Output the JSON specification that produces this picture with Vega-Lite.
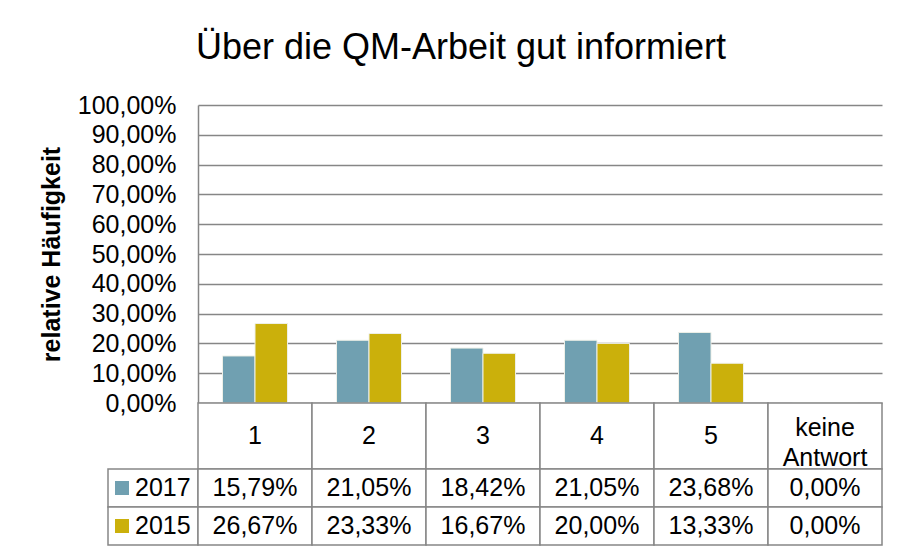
{
  "$schema": "https://vega.github.io/schema/vega-lite/v6.json",
  "padding": {"left": 39, "top": 30, "right": 5, "bottom": 0},
  "background": "white",
  "title": {"text": "Über die QM-Arbeit gut informiert", "fontSize": 36, "fontWeight": "normal", "font": "Liberation Sans", "color": "#000000", "anchor": "middle", "offset": 26},
  "datasets": {
    "d": [
      {"cat": "1", "year": "2017", "value": 0.1579},
      {"cat": "2", "year": "2017", "value": 0.2105},
      {"cat": "3", "year": "2017", "value": 0.1842},
      {"cat": "4", "year": "2017", "value": 0.2105},
      {"cat": "5", "year": "2017", "value": 0.2368},
      {"cat": "keine Antwort", "year": "2017", "value": 0},
      {"cat": "1", "year": "2015", "value": 0.2667},
      {"cat": "2", "year": "2015", "value": 0.2333},
      {"cat": "3", "year": "2015", "value": 0.1667},
      {"cat": "4", "year": "2015", "value": 0.2},
      {"cat": "5", "year": "2015", "value": 0.1333},
      {"cat": "keine Antwort", "year": "2015", "value": 0}
    ]
  },
  "bounds": "flush",
  "spacing": 0,
  "columns": 2,
  "concat": [
    {"width": 90, "height": 298, "data": {"values": []}, "mark": "point", "encoding": {}},
    {
      "width": 684,
      "height": 298,
      "data": {"name": "d"},
      "mark": {"type": "bar", "stroke": "#EEF0E8", "strokeWidth": 1},
      "encoding": {
        "x": {"field": "cat", "type": "nominal", "sort": null, "scale": {"domain": ["1", "2", "3", "4", "5", "keine Antwort"], "paddingInner": 0, "paddingOuter": 0}, "axis": null},
        "xOffset": {"field": "year", "type": "nominal", "sort": null, "scale": {"domain": ["2017", "2015"], "paddingInner": 0, "paddingOuter": 0.754}},
        "y": {
          "field": "value", "type": "quantitative",
          "scale": {"domain": [0, 1]},
          "axis": {"values": [0, 0.1, 0.2, 0.3, 0.4, 0.5, 0.6, 0.7, 0.8, 0.9, 1], "format": ".2%", "title": "relative Häufigkeit", "grid": true, "ticks": false, "domainColor": "#868686", "domainWidth": 1.5, "gridColor": "#868686", "gridWidth": 1.5, "labelFontSize": 25, "labelColor": "#000000", "labelPadding": 22, "labelOverlap": false, "titleFontSize": 25, "titleFontWeight": "bold", "titleColor": "#000000", "titlePadding": 13}
        },
        "color": {"field": "year", "type": "nominal", "scale": {"domain": ["2017", "2015"], "range": ["#70A0B1", "#CBB00B"]}, "legend": null}
      }
    },
    {"width": 90, "height": 66, "data": {"values": []}, "mark": "point", "encoding": {}},
    {
      "width": 684,
      "height": 66,
      "data": {"name": "d"},
      "transform": [{"filter": "datum.year == '2017'"}],
      "encoding": {
        "x": {"field": "cat", "type": "nominal", "sort": null, "scale": {"domain": ["1", "2", "3", "4", "5", "keine Antwort"], "paddingInner": 0, "paddingOuter": 0}, "axis": null}
      },
      "layer": [
        {"mark": {"type": "rect", "fill": "white", "stroke": "#868686", "strokeWidth": 1.5}},
        {"transform": [{"filter": "datum.cat != 'keine Antwort'"}], "mark": {"type": "text", "fontSize": 25, "color": "#000000"}, "encoding": {"text": {"field": "cat"}}},
        {"transform": [{"filter": "datum.cat == 'keine Antwort'"}], "mark": {"type": "text", "fontSize": 25, "color": "#000000", "lineBreak": " ", "lineHeight": 30, "dy": -8}, "encoding": {"text": {"field": "cat"}}}
      ]
    },
    {
      "width": 90,
      "height": 76,
      "data": {"name": "d"},
      "transform": [{"filter": "datum.cat == '1'"}],
      "encoding": {
        "y": {"field": "year", "type": "nominal", "sort": null, "scale": {"domain": ["2017", "2015"], "paddingInner": 0, "paddingOuter": 0}, "axis": null}
      },
      "layer": [
        {"mark": {"type": "rect", "fill": "white", "stroke": "#868686", "strokeWidth": 1.5}},
        {"mark": {"type": "point", "shape": "square", "filled": true, "size": 196, "opacity": 1, "xOffset": -31}, "encoding": {"color": {"field": "year", "type": "nominal", "scale": {"domain": ["2017", "2015"], "range": ["#70A0B1", "#CBB00B"]}, "legend": null}}},
        {"mark": {"type": "text", "align": "left", "dx": -18, "fontSize": 25, "color": "#000000"}, "encoding": {"text": {"field": "year"}}}
      ]
    },
    {
      "width": 684,
      "height": 76,
      "data": {"name": "d"},
      "encoding": {
        "x": {"field": "cat", "type": "nominal", "sort": null, "scale": {"domain": ["1", "2", "3", "4", "5", "keine Antwort"], "paddingInner": 0, "paddingOuter": 0}, "axis": null},
        "y": {"field": "year", "type": "nominal", "sort": null, "scale": {"domain": ["2017", "2015"], "paddingInner": 0, "paddingOuter": 0}, "axis": null}
      },
      "layer": [
        {"mark": {"type": "rect", "fill": "white", "stroke": "#868686", "strokeWidth": 1.5}},
        {"mark": {"type": "text", "fontSize": 25, "color": "#000000"}, "encoding": {"text": {"field": "value", "format": ".2%"}}}
      ]
    }
  ],
  "config": {
    "view": {"stroke": null},
    "font": "Liberation Sans",
    "locale": {"number": {"decimal": ",", "thousands": ".", "grouping": [3], "currency": ["", " €"]}}
  }
}
